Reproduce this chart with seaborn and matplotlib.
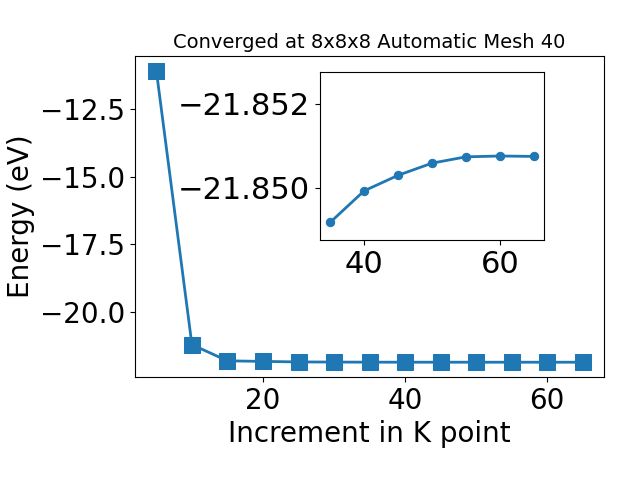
import matplotlib
matplotlib.use("Agg")
import matplotlib.pyplot as plt
import seaborn as sns
import pandas as pd
from matplotlib.ticker import ScalarFormatter

kpoints = [5, 10, 15, 20, 25, 30, 35, 40, 45, 50, 55, 60, 65]
energy = [-11.08, -21.20, -21.80, -21.82, -21.84, -21.845,
          -21.84918, -21.84993, -21.85030, -21.85059, -21.85074, -21.85076, -21.85075]

inset_k = [35, 40, 45, 50, 55, 60, 65]
inset_e = [-21.84918, -21.84993, -21.85030, -21.85059, -21.85074, -21.85076, -21.85075]

df = pd.DataFrame({"k": kpoints, "E": energy})
df_in = pd.DataFrame({"k": inset_k, "E": inset_e})

fig = plt.figure(figsize=(6.4, 4.8), dpi=100)
ax = fig.add_axes([0.211, 0.215, 0.733, 0.668])
sns.lineplot(data=df, x="k", y="E", ax=ax, marker="s", markersize=11,
             linewidth=2, color="#1f77b4", markeredgecolor="#1f77b4")
ax.set_title("Converged at 8x8x8 Automatic Mesh 40", fontsize=14)
ax.set_xlabel("Increment in K point", fontsize=20)
ax.set_ylabel("Energy (eV)", fontsize=20)
ax.tick_params(labelsize=20)
ax.set_yticks([-12.5, -15.0, -17.5, -20.0])

axin = fig.add_axes([0.5, 0.5, 0.35, 0.35])
sns.lineplot(data=df_in, x="k", y="E", ax=axin, marker="o", markersize=6,
             linewidth=2, color="#1f77b4", markeredgecolor="#1f77b4")
axin.set_ylim(-21.84876, -21.85276)
axin.set_yticks([-21.852, -21.850])
fmt = ScalarFormatter(useOffset=False)
axin.yaxis.set_major_formatter(fmt)
axin.set_xticks([40, 60])
axin.set_xlabel("")
axin.set_ylabel("")
axin.tick_params(labelsize=22)

fig.savefig("out.png", dpi=100)
